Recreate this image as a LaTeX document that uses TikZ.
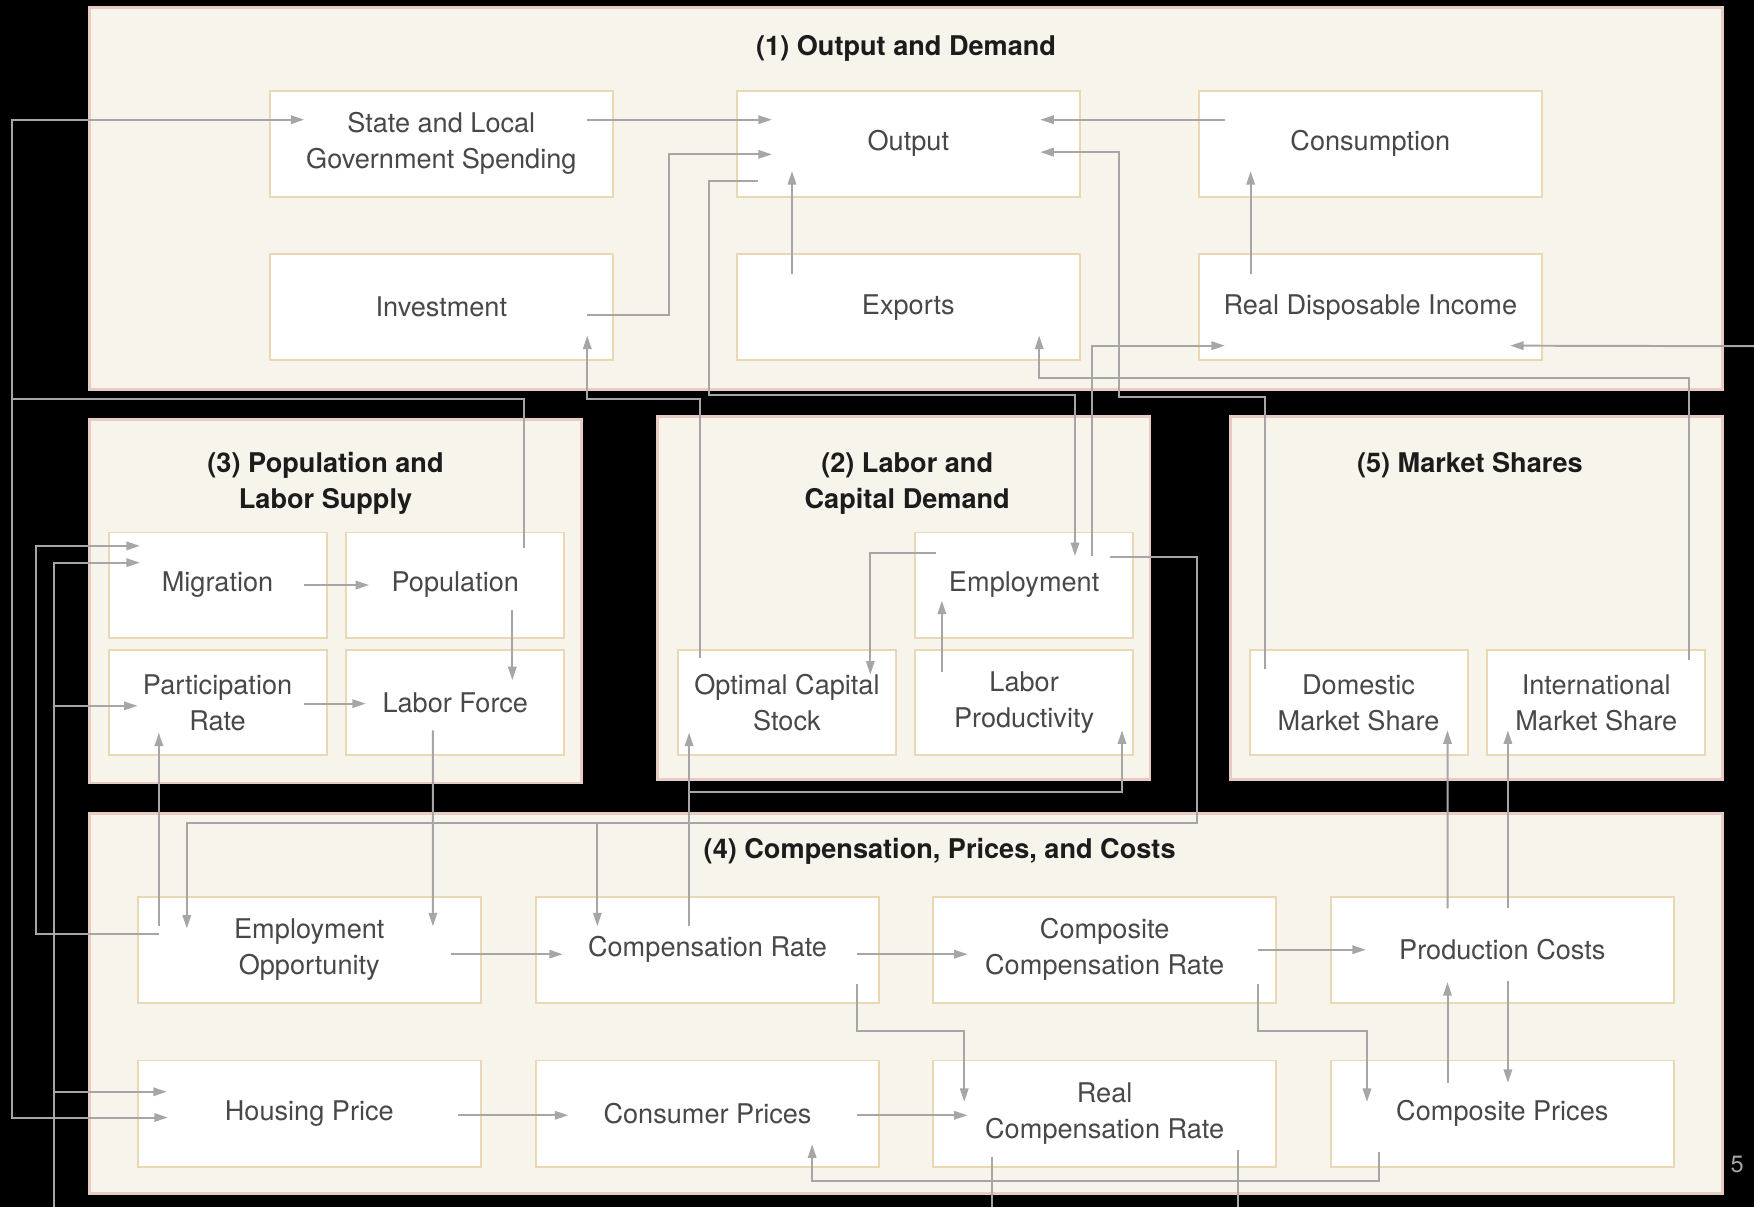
\documentclass[tikz,border=0pt]{standalone}
\usepackage{fontspec}
\setmainfont{TeX Gyre Heros}
\usetikzlibrary{calc,arrows.meta}
\definecolor{panelfill}{RGB}{247,244,236}
\definecolor{paneledge}{RGB}{232,203,194}
\definecolor{boxedge}{RGB}{236,215,180}
\definecolor{linegray}{RGB}{166,166,166}
\definecolor{boxtext}{RGB}{72,72,72}
\definecolor{titletext}{RGB}{28,28,28}
\tikzset{
  panel/.style={fill=panelfill,draw=paneledge,line width=1.4pt},
  varbox/.style={draw=boxedge,fill=white,line width=1pt,align=center,text=boxtext,
    font=\fontsize{13.8}{18.3}\selectfont},
  widebox/.style={varbox,minimum width=6.14cm,minimum height=1.9cm},
  smallbox/.style={varbox,minimum width=3.9cm,minimum height=1.88cm},
  paneltitle/.style={align=center,text=titletext,font=\fontsize{13.8}{18.3}\selectfont\bfseries},
  flow/.style={draw=linegray,line width=1pt,-{Triangle[length=2.4mm,width=1.5mm]}},
  flowline/.style={draw=linegray,line width=1pt}
}

\begin{document}
\begin{tikzpicture}[x=0.02cm,y=-0.02cm]
\useasboundingbox (0,0) rectangle (1568,1079);
\fill[black] (0,0) rectangle (1568,1079);

% panels
\draw[panel] (80,7) rectangle (1540,348);
\draw[panel] (80,375) rectangle (520,700);
\draw[panel] (588,372) rectangle (1028,697);
\draw[panel] (1100,372) rectangle (1540,697);
\draw[panel] (80,727) rectangle (1540,1067);

\node[paneltitle] (t1) at (810,43) {(1) Output and Demand};
\node[paneltitle] (t3) at (291,432) {(3) Population and\\Labor Supply};
\node[paneltitle] (t2) at (811,432) {(2) Labor and\\Capital Demand};
\node[paneltitle] (t5) at (1314,416) {(5) Market Shares};
\node[paneltitle] (t4) at (840,761) {(4) Compensation, Prices, and Costs};

% boxes
\foreach \nm/\cx/\cy/\txt in {
  state/394.5/128.5/{State and Local\\Government Spending},
  output/812/128.5/Output,
  cons/1225/128.5/Consumption,
  invest/394.5/274.5/Investment,
  exports/812/274.5/Exports,
  rdi/1225/274.5/Real Disposable Income,
  empopp/276.5/849/{Employment\\Opportunity},
  comprate/632.5/849/Compensation Rate,
  compcomp/987.5/849/{Composite\\Compensation Rate},
  prodcost/1343/849/Production Costs,
  housing/276.5/995.5/Housing Price,
  consprice/632.5/995.5/Consumer Prices,
  realcomp/987.5/995.5/{Real\\Compensation Rate},
  compprice/1343/995.5/Composite Prices}{%
  \node[widebox] (\nm) at (\cx,\cy) {\txt};
}
\foreach \nm/\cx/\cy/\txt in {
  migr/194.5/523/Migration,
  popu/407/523/Population,
  partic/194.5/628/{Participation\\Rate},
  labforce/407/628/Labor Force,
  employ/915.5/523/Employment,
  optcap/703.5/628/{Optimal Capital\\Stock},
  labprod/915.5/628/{Labor\\Productivity},
  domshare/1214.5/628/{Domestic\\Market Share},
  intshare/1427/628/{International\\Market Share}}{%
  \node[smallbox] (\nm) at (\cx,\cy) {\txt};
}

\node[text=gray!70,font=\fontsize{12}{14}\selectfont] (pagenum) at (1553,1041) {5};

\coordinate (westbus) at (11,357);
\coordinate (southbus) at (48,1079);
\coordinate (rdisrc) at (1568,309.5);
\coordinate (empbend) at ($(employ)+(154.5,213)$);

% output and demand
\draw[flow] ($(state)+(130.5,-21.5)$) -- ($(output)+(-122,-21.5)$);
\draw[flow] ($(invest)+(130.5,7.5)$) -| ($(output)+(-214,9.5)$) -- ($(output)+(-122,9.5)$);
\draw[flow] ($(cons)+(-130,-21.5)$) -- ($(output)+(118,-21.5)$);
\draw[flow] ($(exports)+(-104,-29.5)$) -- ($(output)+(-104,24.5)$);
\draw[flow] ($(rdi)+(-107,-29.5)$) -- ($(cons)+(-107,24.5)$);
\draw[flow] ($(domshare)+(-83.5,-30)$) |- ($(output)+(188,226.5)$) |- ($(output)+(118,7.5)$);
\draw[flow] ($(intshare)+(83,-38)$) |- ($(exports)+(117,63.5)$) -- ($(exports)+(117,25.5)$);
\draw[flow] (rdisrc) -- ($(rdi)+(125,34.5)$);
\draw[flow] ($(employ)+(60.5,-26)$) |- ($(rdi)+(-130,34.5)$);
\draw[flow] ($(output)+(-134,33.5)$) -| ($(output)+(-178,224.5)$) -| ($(employ)+(45.5,-26)$);
\draw[flow] ($(optcap)+(-77.5,-40)$) |- ($(invest)+(130.5,82)$) -- ($(invest)+(130.5,25.5)$);

% population and labor supply
\draw[flow] ($(popu)+(61,-33)$) |- (westbus) |- ($(state)+(-122.5,-21.5)$);
\draw[flow] (westbus) |- ($(housing)+(-126.5,3.5)$);
\draw[flow] ($(empopp)+(-134.5,-21)$) -- ($(partic)+(-52.5,27)$);
\draw[flow] ($(empopp)+(-134.5,-14)$) -| ($(migr)+(-162.5,-35)$) -- ($(migr)+(-69.5,-35)$);
\draw[flow] (southbus) |- ($(migr)+(-69.5,-20)$);
\draw[flow] (southbus) |- ($(partic)+(-71.5,3)$);
\draw[flow] (southbus) |- ($(housing)+(-127.5,-19.5)$);
\draw[flow] ($(migr)+(77.5,0)$) -- ($(popu)+(-77,0)$);
\draw[flow] ($(popu)+(51,22)$) -- ($(labforce)+(51,-20)$);
\draw[flow] ($(partic)+(77.5,1)$) -- ($(labforce)+(-80,1)$);
\draw[flow] ($(labforce)+(-20,25)$) -- ($(empopp)+(110.5,-21)$);

% labor and capital demand
\draw[flow] ($(employ)+(-78.5,-29)$) -| ($(optcap)+(74.5,-25)$);
\draw[flow] ($(labprod)+(-73.5,-27)$) -- ($(employ)+(-73.5,14)$);
\draw[flow] ($(employ)+(76.5,-25)$) -| (empbend) -| ($(empopp)+(-109.5,-19)$);
\draw[flow] ($(comprate)+(-98.5,-113)$) -- ($(comprate)+(-98.5,-21)$);
\draw[flow] ($(comprate)+(-16.5,-21)$) -- ($(optcap)+(-87.5,27)$);
\draw[flow] ($(comprate)+(-16.5,-141)$) -| ($(labprod)+(87.5,25)$);

% market shares
\draw[flow] ($(prodcost)+(-49,-37)$) -- ($(domshare)+(79.5,25)$);
\draw[flow] ($(prodcost)+(5,-37)$) -- ($(intshare)+(-79,25)$);

% compensation, prices, and costs
\draw[flow] ($(empopp)+(126.5,4)$) -- ($(comprate)+(-129.5,4)$);
\draw[flow] ($(comprate)+(133.5,4)$) -- ($(compcomp)+(-122.5,4)$);
\draw[flow] ($(comprate)+(133.5,31)$) -- ++(0,42) -| ($(realcomp)+(-125.5,-10.5)$);
\draw[flow] ($(compcomp)+(137.5,0)$) -- ($(prodcost)+(-122,0)$);
\draw[flow] ($(compcomp)+(137.5,31)$) -- ++(0,42) -| ($(compprice)+(-121,-10.5)$);
\draw[flow] ($(prodcost)+(5,28)$) -- ($(compprice)+(5,-27.5)$);
\draw[flow] ($(compprice)+(-49,-27.5)$) -- ($(prodcost)+(-49,29)$);
\draw[flow] ($(housing)+(132.5,1.5)$) -- ($(consprice)+(-124.5,1.5)$);
\draw[flow] ($(consprice)+(133.5,1.5)$) -- ($(realcomp)+(-122.5,1.5)$);
\draw[flow] ($(compprice)+(-110,34.5)$) |- ($(consprice)+(93.5,60.5)$) -- ($(consprice)+(93.5,27.5)$);
\draw[flowline] ($(realcomp)+(-100.5,38.5)$) -- ++(0,45);
\draw[flowline] ($(realcomp)+(119.5,32.5)$) -- ++(0,51);
\end{tikzpicture}
\end{document}
